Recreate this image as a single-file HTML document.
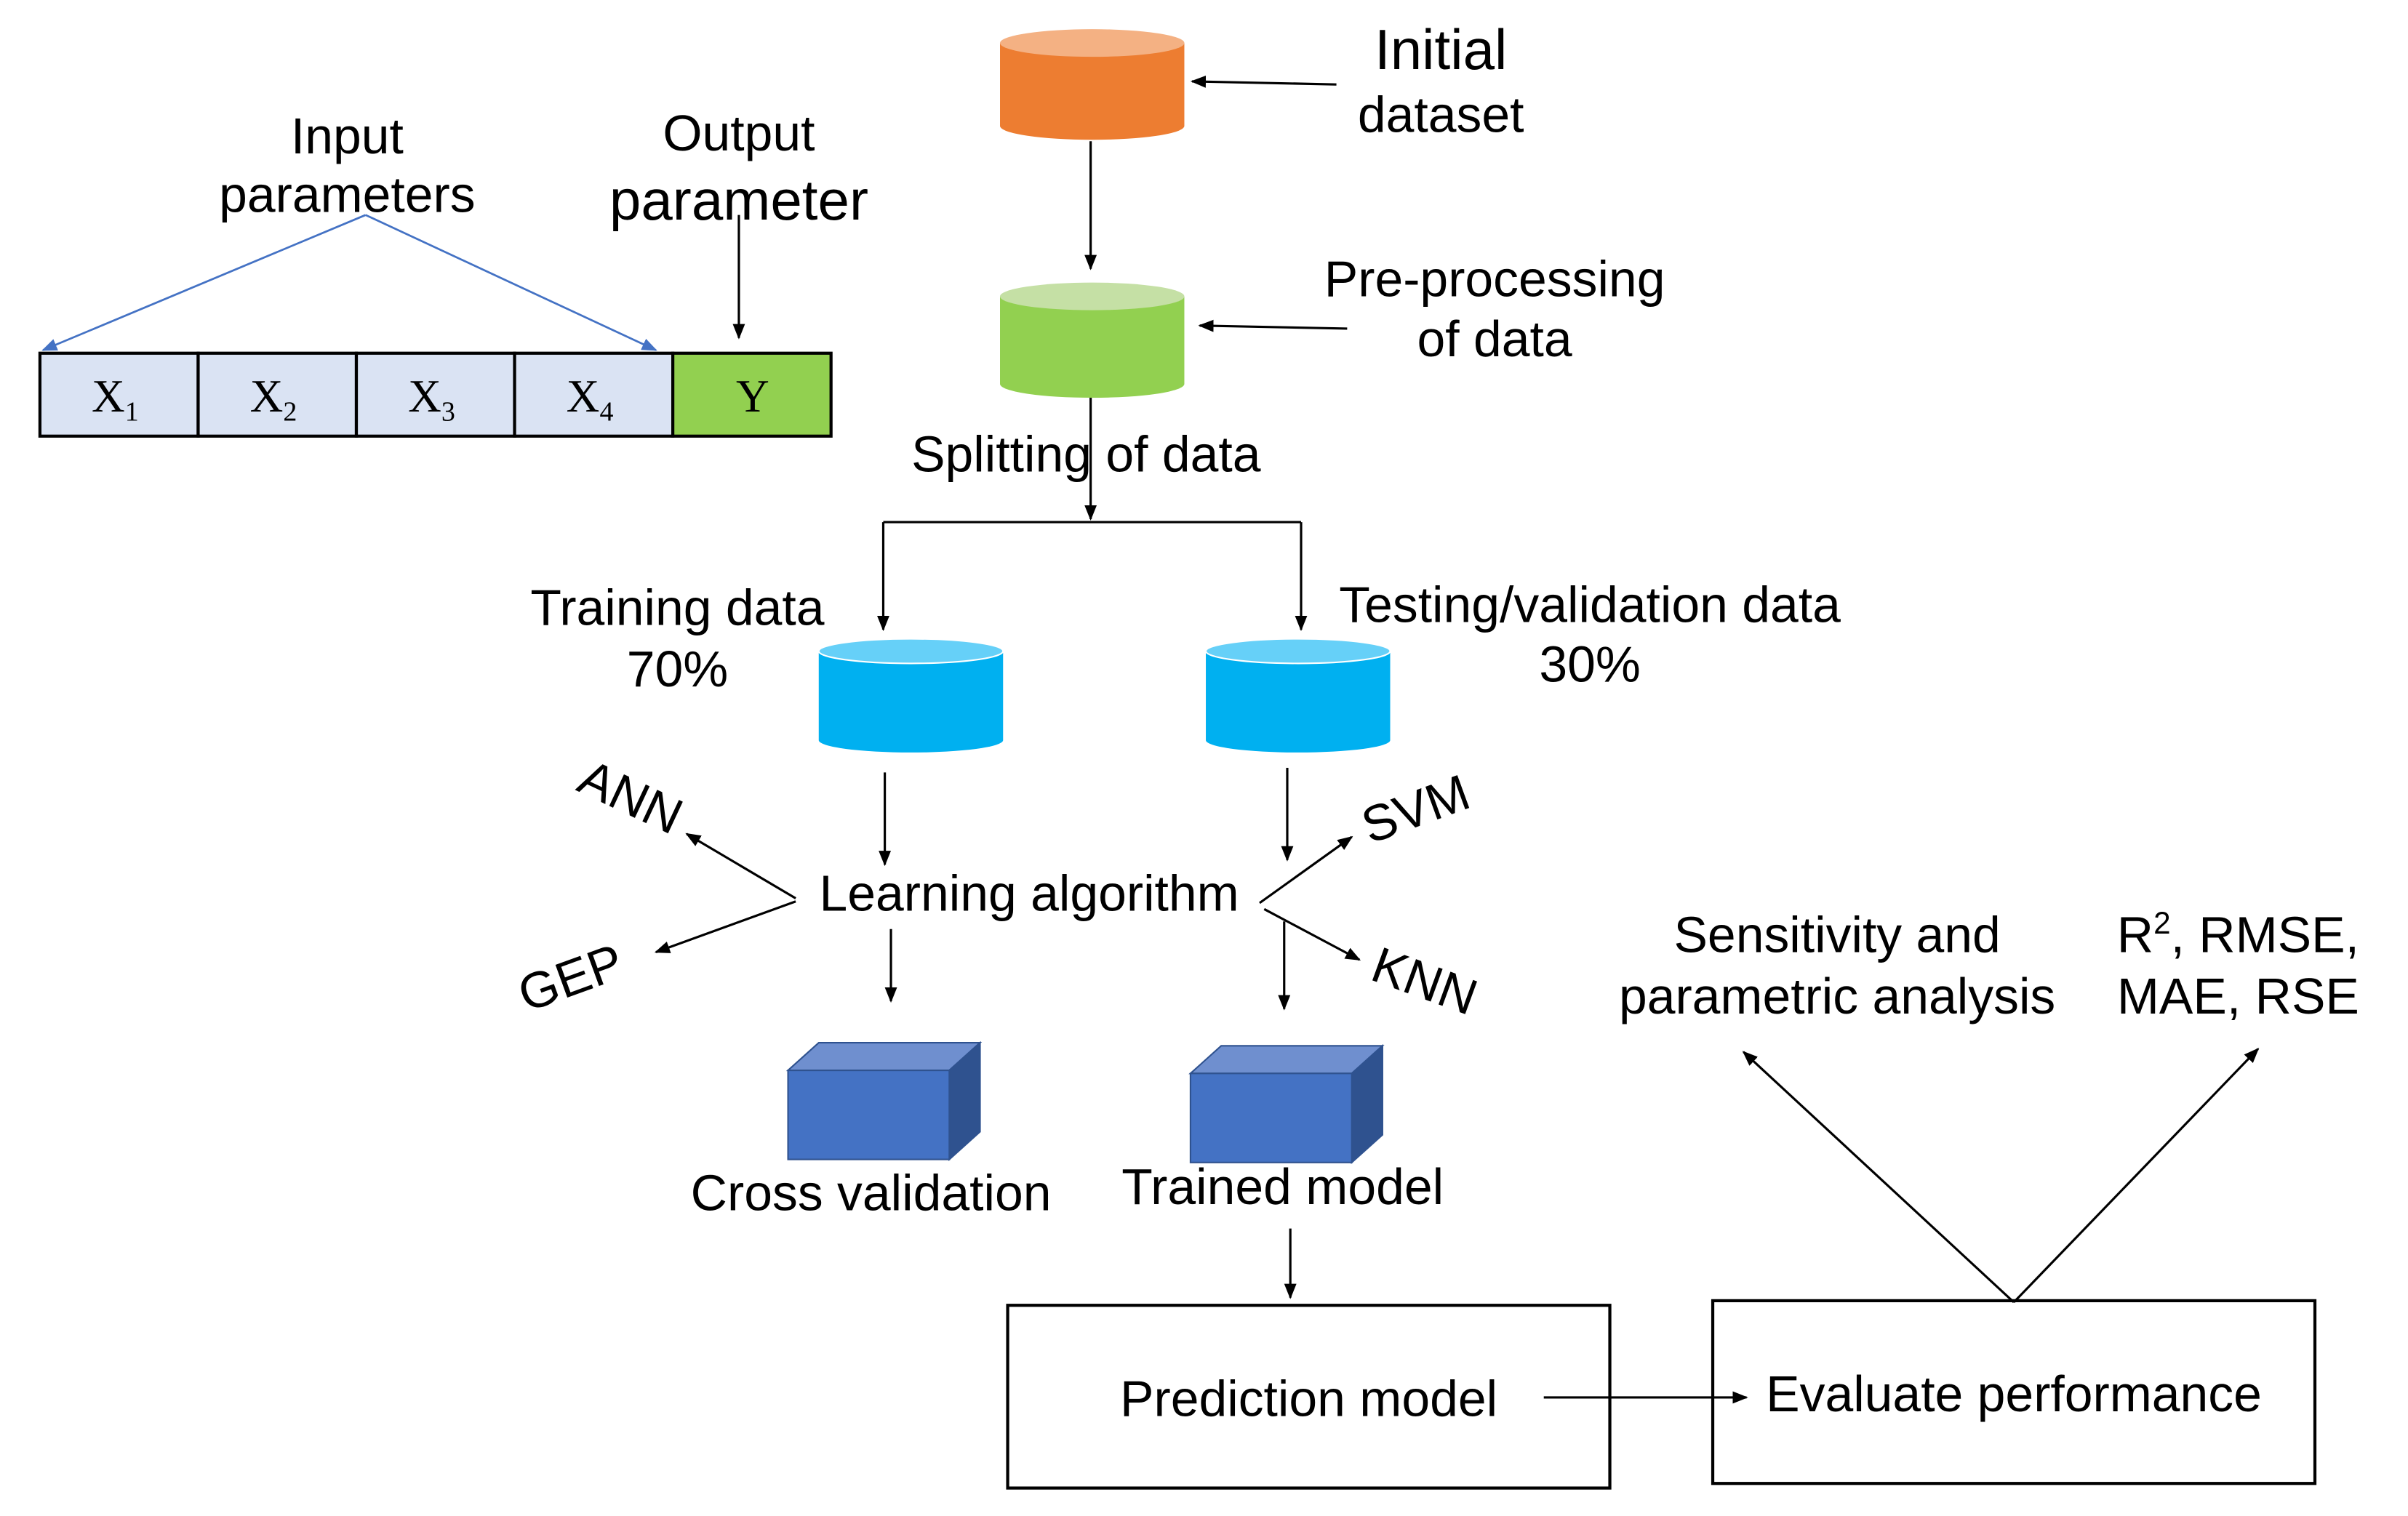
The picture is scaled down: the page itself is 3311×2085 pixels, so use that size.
<!DOCTYPE html>
<html><head><meta charset="utf-8"><style>
html,body{margin:0;padding:0;background:#fff;}
svg{display:block;}
text{font-family:"Liberation Sans",sans-serif;fill:#000;}
</style></head><body>
<svg width="3311" height="2085" viewBox="0 0 1567.6 987.2" preserveAspectRatio="none" xmlns="http://www.w3.org/2000/svg">
<defs>
<marker id="a" markerWidth="10" markerHeight="10" refX="9" refY="5" orient="auto" markerUnits="userSpaceOnUse"><path d="M0,1 L10,5 L0,9 z" fill="#000"/></marker>
<marker id="b" markerWidth="10" markerHeight="10" refX="9" refY="5" orient="auto" markerUnits="userSpaceOnUse"><path d="M0,1 L10,5 L0,9 z" fill="#4472c4"/></marker>
</defs>
<rect width="1600" height="1000" fill="#fff"/>
<g stroke="#000" stroke-width="1.5" fill="none">
<line x1="870" y1="55" x2="776" y2="53" marker-end="url(#a)"/>
<line x1="710" y1="92" x2="710" y2="175" marker-end="url(#a)"/>
<line x1="877" y1="214" x2="781" y2="212" marker-end="url(#a)"/>
<line x1="710" y1="258" x2="710" y2="338" marker-end="url(#a)"/>
<line x1="575" y1="340" x2="847" y2="340"/>
<line x1="575" y1="340" x2="575" y2="410" marker-end="url(#a)"/>
<line x1="847" y1="340" x2="847" y2="410" marker-end="url(#a)"/>
<line x1="576" y1="503" x2="576" y2="563" marker-end="url(#a)"/>
<line x1="838" y1="500" x2="838" y2="560" marker-end="url(#a)"/>
<line x1="518" y1="585" x2="447" y2="543" marker-end="url(#a)"/>
<line x1="518" y1="587" x2="427" y2="620" marker-end="url(#a)"/>
<line x1="820" y1="588" x2="880" y2="545" marker-end="url(#a)"/>
<line x1="823" y1="592" x2="885" y2="625" marker-end="url(#a)"/>
<line x1="580" y1="605" x2="580" y2="652" marker-end="url(#a)"/>
<line x1="836" y1="600" x2="836" y2="657" marker-end="url(#a)"/>
<line x1="840" y1="800" x2="840" y2="845" marker-end="url(#a)"/>
<line x1="1005" y1="910" x2="1137" y2="910" marker-end="url(#a)"/>
<line x1="1311" y1="848" x2="1135" y2="685" marker-end="url(#a)"/>
<line x1="1311" y1="848" x2="1470" y2="683" marker-end="url(#a)"/>
<line x1="481" y1="140" x2="481" y2="220" marker-end="url(#a)"/>
<rect x="656" y="850" width="392" height="119" stroke-width="2"/>
<rect x="1115" y="847" width="392" height="119" stroke-width="2"/>
</g>
<g stroke="#4472c4" stroke-width="1.3">
<line x1="238" y1="140" x2="28" y2="228" marker-end="url(#b)"/>
<line x1="238" y1="140" x2="427" y2="228" marker-end="url(#b)"/>
</g>
<g>
<path d="M651,28 V82 A60,9 0 0 0 771,82 V28 z" fill="#ed7d31"/>
<ellipse cx="711" cy="28" rx="60" ry="9" fill="#f4b183"/>
<path d="M651,193 V250 A60,9 0 0 0 771,250 V193 z" fill="#92d050"/>
<ellipse cx="711" cy="193" rx="60" ry="9" fill="#c5e0a5"/>
<path d="M533,424 V482 A60,8 0 0 0 653,482 V424 z" fill="#00b0f0"/>
<ellipse cx="593" cy="424" rx="60" ry="8" fill="#66d0f8" stroke="#fff" stroke-width="1"/>
<path d="M785,424 V482 A60,8 0 0 0 905,482 V424 z" fill="#00b0f0"/>
<ellipse cx="845" cy="424" rx="60" ry="8" fill="#66d0f8" stroke="#fff" stroke-width="1"/>
</g>
<g stroke="#2f528f" stroke-width="1">
<polygon points="513,697 533,679 638,679 618,697" fill="#6f8fcf"/>
<polygon points="618,697 638,679 638,737 618,755" fill="#2f528f"/>
<rect x="513" y="697" width="105" height="58" fill="#4472c4"/>
<polygon points="775,699 795,681 900,681 880,699" fill="#6f8fcf"/>
<polygon points="880,699 900,681 900,739 880,757" fill="#2f528f"/>
<rect x="775" y="699" width="105" height="58" fill="#4472c4"/>
</g>
<g stroke="#000" stroke-width="2">
<rect x="26" y="230" width="103" height="54" fill="#dae3f3"/>
<rect x="129" y="230" width="103" height="54" fill="#dae3f3"/>
<rect x="232" y="230" width="103" height="54" fill="#dae3f3"/>
<rect x="335" y="230" width="103" height="54" fill="#dae3f3"/>
<rect x="438" y="230" width="103" height="54" fill="#92d050"/>
</g>
<g font-size="30" text-anchor="middle">
<text x="75" y="268" style="font-family:'Liberation Serif',serif">X<tspan font-size="18" dy="6">1</tspan></text>
<text x="178" y="268" style="font-family:'Liberation Serif',serif">X<tspan font-size="18" dy="6">2</tspan></text>
<text x="281" y="268" style="font-family:'Liberation Serif',serif">X<tspan font-size="18" dy="6">3</tspan></text>
<text x="384" y="268" style="font-family:'Liberation Serif',serif">X<tspan font-size="18" dy="6">4</tspan></text>
<text x="490" y="268" style="font-family:'Liberation Serif',serif">Y</text>
</g>
<g text-anchor="middle" font-size="33">
<text x="938" y="45" font-size="37">Initial</text>
<text x="938" y="86">dataset</text>
<text x="973" y="193">Pre-processing</text>
<text x="973" y="232">of data</text>
<text x="707" y="307">Splitting of data</text>
<text x="441" y="407">Training data</text>
<text x="441" y="447">70%</text>
<text x="1035" y="405">Testing/validation data</text>
<text x="1035" y="444">30%</text>
<text x="670" y="593">Learning algorithm</text>
<text x="567" y="788">Cross validation</text>
<text x="835" y="784">Trained model</text>
<text x="852" y="922">Prediction model</text>
<text x="1311" y="919">Evaluate performance</text>
<text x="1196" y="620">Sensitivity and</text>
<text x="1196" y="660">parametric analysis</text>
<text x="1457" y="620">R<tspan font-size="20" dy="-12">2</tspan><tspan dy="12">, RMSE,</tspan></text>
<text x="1457" y="660">MAE, RSE</text>
<text x="226" y="100">Input</text>
<text x="226" y="138">parameters</text>
<text x="481" y="98">Output</text>
<text x="481" y="143" font-size="37">parameter</text>
<text x="410" y="530" transform="rotate(25 410 520)">ANN</text>
<text x="372" y="648" transform="rotate(-20 372 638)">GEP</text>
<text x="922" y="538" transform="rotate(-20 922 528)">SVM</text>
<text x="927" y="650" transform="rotate(20 927 640)">KNN</text>
</g>
</svg>
</body></html>
